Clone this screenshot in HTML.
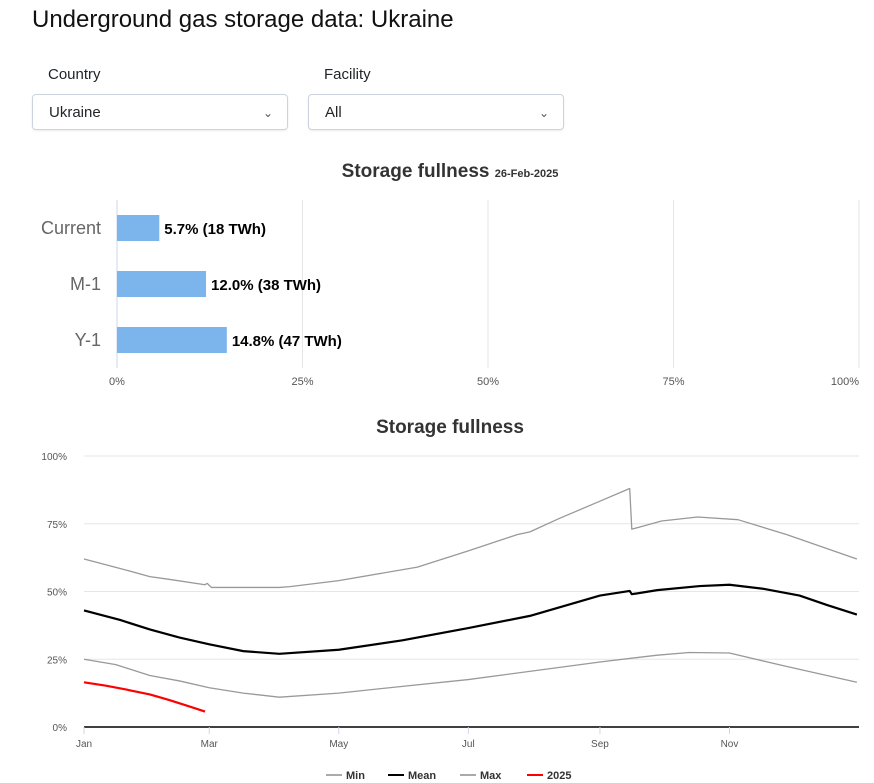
<!DOCTYPE html>
<html><head><meta charset="utf-8"><style>
body{margin:0;width:874px;height:783px;background:#fff;font-family:"Liberation Sans",sans-serif;position:relative;overflow:hidden;color:#212529}
.abs{position:absolute}
h1{position:absolute;left:32px;top:6px;margin:0;font-weight:400;font-size:24px;color:#111}
.lbl{font-size:15px}
.sel{border:1px solid #ccd3dc;border-radius:4px;height:36px;box-shadow:0 1px 2px rgba(0,0,0,.08);font-size:15px;line-height:36px;padding-left:16px;box-sizing:border-box}
.chev{position:absolute;right:14px;top:0;font-size:12px;color:#555}
</style></head><body>
<h1>Underground gas storage data: Ukraine</h1>
<div class="abs lbl" style="left:48px;top:66px">Country</div>
<div class="abs lbl" style="left:324px;top:66px">Facility</div>
<div class="abs sel" style="left:32px;top:94px;width:256px">Ukraine<span class="chev">&#8964;</span></div>
<div class="abs sel" style="left:308px;top:94px;width:256px">All<span class="chev">&#8964;</span></div>

<svg class="abs" style="left:0;top:150px" width="874" height="250" id="bar"></svg>
<svg class="abs" style="left:0;top:400px" width="874" height="383" id="line"></svg>

<script>
const barCategories=["Current","M-1","Y-1"];
const barValues=[5.7,12.0,14.8];
const barTwh=[18,38,47];
const barTicks=[0,25,50,75,100];

const days=[0,17,31,45,59,75,92,120,150,181,210,243,257,258,270,290,304,320,337,350,364];
const maxDays=[0,17,31,40,57,58,60,92,97,120,157,181,204,210,224,242,257,258,265,272,289,308,331,364];
const maxVals=[62,58.5,55.5,54.5,52.5,53,51.5,51.5,51.8,54,59,65,71,72,77,83,88,73,74.5,76,77.5,76.5,71,62];
const meanVals=[43,39.5,36,33,30.5,28,27,28.5,32,36.5,41,48.5,50.2,49,50.5,52,52.5,51,48.5,45,41.5];
const minDays=[0,15,31,45,59,75,92,120,150,181,243,270,285,304,330,364];
const minVals=[25,23,19,17,14.5,12.5,11,12.5,15,17.5,24,26.5,27.5,27.3,22.5,16.5];
const curDays=[0,10,20,31,40,50,57];
const curVals=[16.5,15.3,13.8,12,10,7.5,5.7];
const yTicks=[0,25,50,75,100];
const monthLabels=["Jan","Mar","May","Jul","Sep","Nov"];
const monthDays=[0,59,120,181,243,304];
const legendNames=["Min","Mean","Max","2025"];

const NS="http://www.w3.org/2000/svg";
function mk(p,t,a){const e=document.createElementNS(NS,t);for(const k in a)e.setAttribute(k,a[k]);p.appendChild(e);return e;}

const b=document.getElementById('bar');
const bx=v=>117+v/100*742;
let t=mk(b,'text',{x:450,y:27,'text-anchor':'middle','font-size':19,'font-weight':'bold',fill:'#333'});


t.innerHTML='Storage fullness <tspan font-size="11">26-Feb-2025</tspan>';
barTicks.forEach(v=>{
  const l=mk(b,'line',{x1:bx(v),x2:bx(v),y1:50,y2:218,stroke:v===0?'#ccd6eb':'#e6e6e6'});
  
  
  const tx=mk(b,'text',{x:v===100?bx(v)-14:bx(v),y:235,'text-anchor':'middle','font-size':11,fill:'#555'});
  
  
  tx.textContent=v+'%';
});
barCategories.forEach((c,i)=>{
  const y=65+i*56;
  const r=mk(b,'rect',{x:bx(0),y:y,width:bx(barValues[i])-bx(0),height:26,fill:'#7cb5ec'});
  
  
  const cl=mk(b,'text',{x:101,y:y+19,'text-anchor':'end','font-size':18,fill:'#666'});
  
  
  cl.textContent=c;
  const vl=mk(b,'text',{x:bx(barValues[i])+5,y:y+19,'font-size':15,'font-weight':'bold',fill:'#000'});
  
  
  vl.textContent=barValues[i].toFixed(1)+'% ('+barTwh[i]+' TWh)';
});

const s=document.getElementById('line');
const lx=d=>84+d/365*775;
const ly=v=>327-v*2.71;
t=mk(s,'text',{x:450,y:33,'text-anchor':'middle','font-size':19,'font-weight':'bold',fill:'#333'});


t.textContent='Storage fullness';
yTicks.forEach(v=>{
  const l=mk(s,'line',{x1:84,x2:859,y1:ly(v),y2:ly(v),stroke:v===0?'#000':'#e6e6e6','stroke-width':v===0?1.5:1});
  
  
  const tx=mk(s,'text',{x:67,y:ly(v)+4,'text-anchor':'end','font-size':10,fill:'#555'});
  
  
  tx.textContent=v+'%';
});
monthLabels.forEach((m,i)=>{
  const l=mk(s,'line',{x1:lx(monthDays[i]),x2:lx(monthDays[i]),y1:327,y2:334,stroke:'#ccd6eb'});
  
  
  const tx=mk(s,'text',{x:lx(monthDays[i]),y:347,'text-anchor':'middle','font-size':10,fill:'#555'});
  
  
  tx.textContent=m;
});
function series(ds,vs,col,w,name){
  const p=mk(s,'path',{d:ds.map((d,i)=>(i?'L':'M')+lx(d)+','+ly(vs[i])).join(''),fill:'none',stroke:col,'stroke-width':w,'stroke-linejoin':'round'});
  
  
}
series(minDays,minVals,'#999',1.3,'min-line');
series(maxDays,maxVals,'#999',1.3,'max-line');
series(days,meanVals,'#000',2.2,'mean-line');
series(curDays,curVals,'#f00',2.2,'line-2025');
const lcols=['#aaa','#000','#aaa','#f00'];
const lxs=[326,388,460,527];
legendNames.forEach((n,i)=>{
  const g=mk(s,'g',{});
  
  
  mk(g,'line',{x1:lxs[i],x2:lxs[i]+16,y1:375,y2:375,stroke:lcols[i],'stroke-width':2});
  const tx=mk(g,'text',{x:lxs[i]+20,y:379,'font-size':11,'font-weight':'bold',fill:'#333'});
  tx.textContent=n;
});
</script>
</body></html>
